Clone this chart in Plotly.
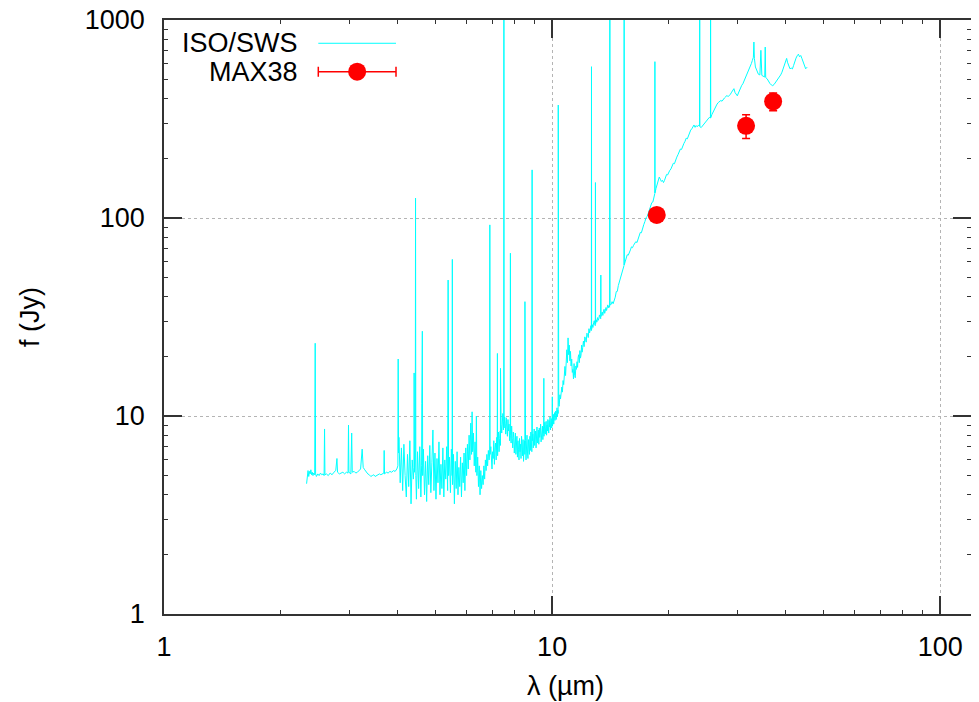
import math
import plotly.graph_objects as go

# ---------------- ISO/SWS spectrum ----------------
sws_wl_a = [2.33, 2.34, 2.35, 2.36, 2.37, 2.38, 2.39, 2.40, 2.41, 2.42,
            2.43, 2.445, 2.452, 2.458, 2.47, 2.49, 2.51, 2.53, 2.55, 2.57,
            2.585, 2.592, 2.598, 2.62, 2.65, 2.68, 2.71, 2.74, 2.77, 2.79,
            2.80, 2.83, 2.86, 2.89, 2.92, 2.95, 2.98, 2.988, 2.995, 3.03,
            3.045, 3.055, 3.09, 3.12, 3.15, 3.18, 3.21, 3.24, 3.26, 3.29,
            3.32, 3.35, 3.38, 3.41, 3.44, 3.47, 3.50, 3.53, 3.56, 3.59,
            3.62, 3.66, 3.685, 3.692, 3.70, 3.74, 3.78, 3.82, 3.86, 3.90,
            3.94, 3.98, 4.005, 4.012, 4.02]
sws_flux_a = [4.55, 4.9, 5.3, 4.95, 5.25, 5.1, 5.35, 5.05, 5.2, 5.0,
              5.15, 5.05, 23.3, 5.1, 4.95, 5.1, 5.0, 5.15, 5.05, 5.1,
              5.0, 8.6, 5.05, 5.1, 5.0, 5.15, 5.05, 5.2, 5.3, 6.1,
              5.2, 5.1, 5.15, 5.2, 5.1, 5.2, 5.15, 9.0, 5.2, 5.1,
              8.2, 5.2, 5.25, 5.15, 5.2, 5.3, 5.4, 6.8, 5.5, 5.35,
              5.2, 5.1, 5.05, 4.95, 5.0, 5.05, 4.95, 5.0, 5.05, 5.1,
              5.05, 5.1, 5.15, 6.7, 5.1, 5.2, 5.15, 5.25, 5.2, 5.3,
              5.25, 5.4, 5.6, 19.4, 6.5]

sws_wl_b = [4.03, 4.06, 4.09, 4.12, 4.15, 4.18, 4.21, 4.24, 4.27, 4.30,
            4.33, 4.36, 4.39, 4.405, 4.41, 4.42, 4.44, 4.447, 4.455, 4.47,
            4.50, 4.53, 4.56, 4.59, 4.61, 4.615, 4.62, 4.63, 4.64, 4.66,
            4.69, 4.72, 4.75, 4.78, 4.81, 4.84, 4.87, 4.90, 4.93, 4.96,
            4.99, 5.02, 5.05, 5.08, 5.11, 5.14, 5.17, 5.20, 5.23, 5.26,
            5.29, 5.32, 5.35, 5.38, 5.395, 5.41, 5.44, 5.47, 5.50, 5.525,
            5.532, 5.54, 5.57, 5.60, 5.63, 5.66, 5.69, 5.72, 5.75, 5.78,
            5.81, 5.84, 5.87, 5.90, 5.93, 5.96, 5.99, 6.02, 6.05, 6.08,
            6.11, 6.14, 6.17, 6.20, 6.22, 6.24, 6.27, 6.30, 6.33, 6.36,
            6.38, 6.40, 6.43, 6.46, 6.49, 6.52, 6.55, 6.58, 6.61, 6.64,
            6.67, 6.70, 6.73, 6.76, 6.79, 6.82, 6.85, 6.88, 6.905, 6.91,
            6.918, 6.95, 6.98]
sws_flux_b = [7.8, 4.6, 6.9, 4.2, 7.2, 5.0, 3.9, 6.4, 4.4, 7.5,
              3.6, 6.0, 4.8, 5.5, 16.5, 5.2, 6.2, 126, 5.0, 3.8,
              6.6, 4.3, 7.0, 3.9, 5.6, 11.6, 5.2, 26.8, 5.0, 6.8,
              4.0, 5.9, 3.7, 6.3, 4.5, 7.1, 4.1, 5.8, 8.5, 4.2,
              6.5, 3.8, 6.1, 4.6, 7.4, 4.0, 5.7, 4.3, 6.9, 3.9,
              6.0, 4.8, 7.0, 4.2, 48.6, 5.0, 6.2, 4.1, 6.8, 5.0,
              61.8, 4.5, 6.4, 3.6, 5.9, 4.3, 6.6, 4.0, 5.5, 4.4,
              6.2, 3.9, 5.8, 4.6, 6.5, 4.2, 6.9, 5.0, 7.2, 5.4,
              8.0, 6.0, 9.2, 6.4, 10.5, 6.6, 8.2, 5.6, 7.4, 5.2,
              10.0, 5.0, 6.2, 4.4, 5.6, 4.0, 5.3, 4.3, 5.0, 4.5,
              5.6, 4.8, 6.0, 5.3, 6.4, 5.6, 6.7, 6.0, 6.5, 92.3,
              6.4, 7.0, 6.2]

sws_wl_c = [7.000, 7.025, 7.050, 7.075, 7.100, 7.125, 7.150, 7.175, 7.200, 7.220,
            7.228, 7.236, 7.250, 7.275, 7.300, 7.325, 7.350, 7.358, 7.362, 7.370,
            7.390, 7.415, 7.440, 7.465, 7.490, 7.505, 7.512, 7.520, 7.545, 7.570,
            7.595, 7.620, 7.645, 7.670, 7.695, 7.720, 7.745, 7.770, 7.800, 7.808,
            7.816, 7.840, 7.865, 7.890, 7.915, 7.940, 7.965, 7.990, 8.015, 8.040,
            8.065, 8.090, 8.115, 8.140, 8.165, 8.190, 8.215, 8.240, 8.265, 8.290,
            8.315, 8.340, 8.365, 8.390, 8.415, 8.440, 8.465, 8.490, 8.505, 8.510,
            8.518, 8.540, 8.565, 8.590, 8.615, 8.640, 8.665, 8.690, 8.715, 8.740,
            8.765, 8.790, 8.815, 8.840, 8.865, 8.880, 8.892, 8.915, 8.940, 8.965,
            8.990, 9.015, 9.040, 9.065, 9.090, 9.115, 9.140, 9.165, 9.190, 9.215,
            9.240, 9.265, 9.290, 9.315, 9.340, 9.365, 9.390, 9.415, 9.440, 9.465,
            9.490, 9.512, 9.520, 9.528, 9.550, 9.575, 9.600, 9.625, 9.650, 9.675,
            9.700, 9.725, 9.750, 9.775, 9.800, 9.825, 9.850, 9.875, 9.900, 9.925,
            9.950, 9.975, 10.000, 10.010, 10.020, 10.045, 10.070, 10.095, 10.120, 10.145,
            10.170, 10.195, 10.220, 10.245, 10.270, 10.295, 10.320, 10.345, 10.362, 10.370,
            10.378, 10.400]
sws_flux_c = [5.4, 6.6, 6.1, 7.5, 5.7, 6.9, 7.3, 6.0, 7.8, 6.8,
              20.7, 6.3, 7.4, 8.3, 6.6, 7.7, 8.4, 7.1, 17.4, 7.9,
              9.1, 8.2, 9.8, 10.3, 8.5, 9.4, 2000, 8.7, 9.9, 9.2,
              8.1, 9.8, 8.9, 7.9, 9.6, 8.4, 9.1, 7.5, 8.6, 66.4,
              8.0, 7.3, 8.9, 7.7, 6.9, 8.3, 7.8, 6.5, 7.4, 8.2,
              6.4, 7.1, 7.9, 6.2, 7.5, 6.8, 6.0, 7.7, 6.6, 7.2,
              6.1, 7.9, 6.9, 6.3, 7.6, 5.9, 7.0, 7.5, 6.4, 37.8,
              6.8, 7.5, 6.0, 7.1, 8.0, 6.5, 6.1, 7.6, 7.0, 6.4,
              7.9, 6.7, 8.3, 7.2, 6.6, 175, 7.5, 8.1, 6.9, 7.7,
              8.6, 7.1, 7.6, 8.4, 6.9, 8.0, 8.8, 7.3, 7.9, 8.5,
              7.2, 8.7, 7.8, 8.2, 9.1, 7.4, 8.5, 7.9, 8.9, 7.6,
              8.8, 8.2, 15.5, 7.9, 8.6, 9.3, 8.1, 8.7, 9.4, 8.0,
              9.0, 8.4, 9.6, 8.6, 8.2, 9.5, 8.8, 9.9, 8.5, 9.2,
              9.7, 8.7, 9.3, 12.5, 8.9, 9.6, 10.2, 9.1, 9.8, 10.4,
              9.5, 10.1, 10.6, 9.6, 10.3, 11.0, 9.9, 10.7, 10.3, 372,
              10.4, 11.4]

sws_wl_d = [10.43, 10.47, 10.51, 10.55, 10.59, 10.63, 10.67, 10.71, 10.75, 10.79,
            10.83, 10.87, 10.91, 10.95, 10.99, 11.03, 11.07, 11.11, 11.15, 11.19,
            11.23, 11.27, 11.31, 11.35, 11.39, 11.43, 11.47, 11.51, 11.55, 11.59,
            11.63, 11.67, 11.71, 11.75, 11.79, 11.83, 11.87, 11.91, 11.95, 11.99,
            12.04, 12.09, 12.14, 12.19, 12.24, 12.29, 12.34, 12.39, 12.44, 12.49,
            12.54, 12.59, 12.62, 12.63, 12.64, 12.69, 12.74, 12.79, 12.84, 12.89,
            12.92, 12.93, 12.94, 12.99, 13.04, 13.09, 13.14, 13.19, 13.24, 13.29,
            13.34, 13.35, 13.36, 13.41, 13.46, 13.51, 13.56, 13.61, 13.66, 13.71,
            13.76, 13.81, 13.86, 13.91, 13.96, 14.01, 14.06, 14.07, 14.08, 14.085,
            14.10]
sws_flux_d = [11.2, 12.8, 12.2, 13.1, 14.0, 13.2, 15.1, 14.4, 16.3, 17.8,
              16.0, 19.8, 21.6, 18.6, 24.8, 20.4, 22.8, 19.0, 21.2, 17.9,
              19.4, 16.6, 17.2, 15.4, 18.4, 16.0, 15.6, 17.9, 17.2, 18.8,
              17.6, 19.8, 20.4, 18.6, 21.4, 19.6, 20.3, 22.8, 21.0, 22.2,
              23.9, 22.4, 25.1, 24.4, 23.6, 26.2, 25.8, 24.9, 27.6, 26.3,
              27.5, 28.6, 27.0, 581, 27.4, 28.9, 28.0, 29.6, 30.3, 28.8,
              28.6, 151, 29.2, 30.6, 29.8, 31.4, 30.4, 30.9, 32.4, 31.2,
              31.0, 51.5, 31.8, 32.6, 33.5, 32.2, 33.9, 34.6, 33.0, 34.4,
              35.3, 34.1, 35.0, 36.4, 35.2, 36.0, 35.4, 185, 35.8, 2000,
              36.4]

sws_wl_e = [14.18, 14.27, 14.36, 14.45, 14.54, 14.63, 14.72, 14.81, 14.90, 14.99,
            15.08, 15.17, 15.26, 15.32, 15.33, 15.34, 15.42, 15.51, 15.61, 15.71,
            15.81, 15.91, 16.01, 16.11, 16.21, 16.32, 16.43, 16.54, 16.65, 16.76,
            16.87, 16.98, 17.10, 17.22, 17.34, 17.46, 17.58, 17.70, 17.82, 17.94,
            18.06, 18.18, 18.30, 18.39, 18.40, 18.41, 18.52, 18.64, 18.76, 18.88,
            19.00, 19.12, 19.24, 19.36, 19.48, 19.60, 19.72, 19.84, 19.96, 20.10,
            20.24, 20.38, 20.52, 20.66, 20.80, 20.95, 21.10, 21.25, 21.40, 21.55,
            21.70, 21.85, 22.00, 22.15, 22.30, 22.45, 22.60, 22.75, 22.90]
sws_flux_e = [36.5, 37.8, 36.9, 38.2, 39.8, 42.5, 42.6, 45.6, 47.4, 49.5,
              52.4, 53.2, 56.2, 57.6, 2000, 58.0, 60.0, 62.0, 65.2, 64.9,
              67.8, 69.0, 71.5, 70.8, 72.8, 74.0, 76.0, 75.1, 77.8, 80.5,
              84.5, 84.2, 89.5, 92.5, 96.0, 100.5, 101.8, 106.5, 110, 114,
              119.5, 120.5, 129, 133, 616, 134, 141, 149, 156, 161,
              157, 153, 155, 151, 155, 160, 166, 165, 171, 174,
              177, 182, 189, 188, 197, 203, 209, 215, 223, 222,
              232, 238, 244, 253, 251, 262, 270, 278, 282]

sws_wl_f = [23.05, 23.20, 23.35, 23.50, 23.65, 23.80, 23.98, 24.00, 24.02, 24.20,
            24.40, 24.60, 24.80, 25.00, 25.20, 25.40, 25.58, 25.60, 25.62, 25.80,
            26.00, 26.20, 26.40, 26.60, 26.80, 27.00, 27.20, 27.40, 27.60, 27.80,
            28.00, 28.20, 28.40, 28.60, 28.80, 29.00, 29.20, 29.40, 29.60, 29.80,
            30.00, 30.20, 30.40, 30.60, 30.80, 31.00, 31.20, 31.40, 31.60, 31.80,
            32.00, 32.20, 32.40, 32.60, 32.80, 33.00, 33.10, 33.20, 33.40, 33.60,
            33.80, 34.00, 34.30, 34.50, 34.70, 35.00, 35.30, 35.40, 35.50, 35.80,
            36.10, 36.40, 36.70, 37.00, 37.30, 37.60, 37.90, 38.20, 38.50, 38.80,
            39.10, 39.40, 39.70, 40.00, 40.20, 40.40, 40.70, 41.00, 41.30, 41.60,
            41.90, 42.20, 42.50, 42.80, 43.10, 43.40, 43.70, 44.00, 44.40, 44.70,
            45.00, 45.40]
sws_flux_f = [290, 295, 287, 293, 289, 294, 291, 2000, 290, 286,
              292, 299, 305, 313, 318, 322, 320, 2000, 321, 333,
              344, 357, 369, 376, 383, 387, 392, 389, 398, 404,
              409, 416, 410, 414, 422, 432, 442, 450, 430, 420,
              414, 428, 444, 456, 468, 476, 490, 505, 520, 535,
              546, 562, 582, 602, 625, 648, 774, 640, 579, 560,
              545, 532, 528, 703, 525, 518, 515, 730, 512, 505,
              488, 478, 470, 466, 472, 482, 492, 500, 512, 528,
              545, 572, 605, 632, 640, 612, 580, 567, 572, 566,
              590, 622, 642, 660, 672, 652, 662, 640, 614, 590,
              567, 578]

# ---------------- MAX38 photometry ----------------
max38_wavelength = [18.6, 31.6, 37.1]
max38_flux = [103.6, 292, 388]
max38_error = [6, 40, 40]

# ---------------- axes ----------------
x_tick_values = [1, 10, 100]
x_tick_labels = ["1", "10", "100"]
x_minor_values = [2, 3, 4, 5, 6, 7, 8, 9, 20, 30, 40, 50, 60, 70, 80, 90]
y_tick_values = [1, 10, 100, 1000]
y_tick_labels = ["1", "10", "100", "1000"]
y_minor_values = [2, 3, 4, 5, 6, 7, 8, 9, 20, 30, 40, 50, 60, 70, 80, 90,
                  200, 300, 400, 500, 600, 700, 800, 900]
x_range = [1, 120]
y_range = [1, 1000]

legend_names = ["ISO/SWS", "MAX38"]

sws_wavelength = sws_wl_a + sws_wl_b + sws_wl_c + sws_wl_d + sws_wl_e + sws_wl_f
sws_flux = sws_flux_a + sws_flux_b + sws_flux_c + sws_flux_d + sws_flux_e + sws_flux_f
for w, f in [(sws_wl_a, sws_flux_a), (sws_wl_b, sws_flux_b), (sws_wl_c, sws_flux_c),
             (sws_wl_d, sws_flux_d), (sws_wl_e, sws_flux_e), (sws_wl_f, sws_flux_f)]:
    if len(w) != len(f):
        print("length mismatch", len(w), len(f))

CYAN = "#00ffff"
RED = "#ff0000"
FRAME = "#333333"
FONT = "Liberation Sans, Arial, Helvetica, sans-serif"

fig = go.Figure()

fig.add_trace(go.Scatter(
    x=sws_wavelength, y=sws_flux, mode="lines",
    line=dict(color=CYAN, width=1), showlegend=False, hoverinfo="skip"))

fig.add_trace(go.Scatter(
    x=max38_wavelength, y=max38_flux, mode="markers",
    marker=dict(color=RED, size=18, line=dict(width=0)),
    error_y=dict(type="data", array=max38_error, color=RED, thickness=1.5, width=4),
    showlegend=False))

# gnuplot-style key (sample on the right of the text), on a hidden overlay axis
key_x0, key_x1 = 0.1912, 0.2875
key_y = [0.9608, 0.9130]
fig.add_trace(go.Scatter(
    x=[key_x0, key_x1], y=[key_y[0], key_y[0]], mode="lines",
    line=dict(color=CYAN, width=1), xaxis="x2", yaxis="y2",
    showlegend=False, hoverinfo="skip"))
fig.add_trace(go.Scatter(
    x=[(key_x0 + key_x1) / 2], y=[key_y[1]], mode="markers",
    marker=dict(color=RED, size=18),
    error_x=dict(type="data", array=[(key_x1 - key_x0) / 2], color=RED,
                 thickness=1.5, width=5),
    xaxis="x2", yaxis="y2", showlegend=False, hoverinfo="skip"))

for name, yy in zip(legend_names, key_y):
    fig.add_annotation(text=name, xref="paper", yref="paper", x=0.1685, y=yy,
                       xanchor="right", yanchor="middle", showarrow=False,
                       font=dict(family=FONT, size=27, color="black"))

axis_common = dict(
    type="log", showline=True, linecolor=FRAME, linewidth=1.5, mirror="ticks",
    ticks="inside", ticklen=18, tickwidth=1.5, tickcolor=FRAME,
    showgrid=True, gridcolor="#b4b4b4", griddash="dot", gridwidth=1,
    zeroline=False, tickfont=dict(family=FONT, size=27, color="black"),
    ticklabeloverflow="allow", automargin=False,
)

# the page adds an 8px body margin, so the figure is sized to fit 979x702
fig.update_layout(
    width=971, height=694,
    margin=dict(l=156, r=8, t=12, b=88, autoexpand=False),
    paper_bgcolor="white", plot_bgcolor="white",
    font=dict(family=FONT, size=27, color="black"),
    xaxis=dict(axis_common, range=[math.log10(x_range[0]), math.log10(x_range[1])],
               tickmode="array", tickvals=x_tick_values, ticktext=x_tick_labels,
               ticklabelstandoff=8,
               minor=dict(tickmode="array", tickvals=x_minor_values, ticks="inside",
                          ticklen=4, tickwidth=1.2, tickcolor=FRAME, showgrid=False)),
    yaxis=dict(axis_common, range=[math.log10(y_range[0]), math.log10(y_range[1])],
               tickmode="array", tickvals=y_tick_values, ticktext=y_tick_labels,
               ticklabelstandoff=12,
               minor=dict(tickmode="array", tickvals=y_minor_values, ticks="inside",
                          ticklen=4, tickwidth=1.2, tickcolor=FRAME, showgrid=False)),
    xaxis2=dict(overlaying="x", range=[0, 1], visible=False, fixedrange=True),
    yaxis2=dict(overlaying="y", range=[0, 1], visible=False, fixedrange=True),
    showlegend=False,
)

fig.add_annotation(text="λ (µm)", xref="paper", yref="paper", x=0.497, y=-0.1212,
                   xanchor="center", yanchor="middle", showarrow=False,
                   font=dict(family=FONT, size=27, color="black"))
fig.add_annotation(text="f (Jy)", xref="paper", yref="paper", x=-0.166, y=0.5,
                   xanchor="center", yanchor="middle", showarrow=False, textangle=-90,
                   font=dict(family=FONT, size=27, color="black"))

fig.write_html("out.html")
